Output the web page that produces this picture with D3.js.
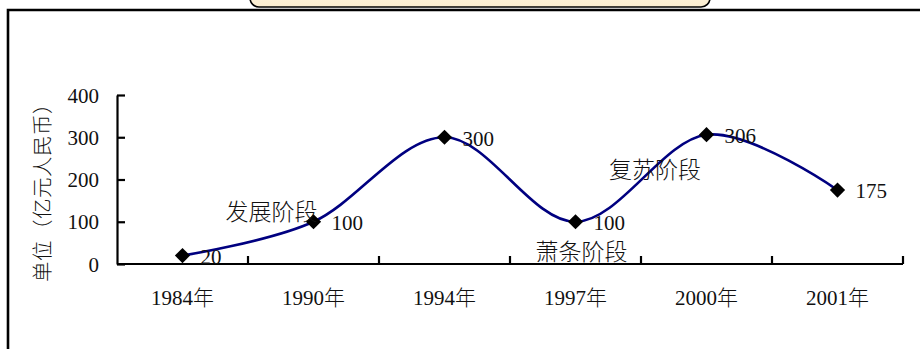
<!DOCTYPE html>
<html>
<head>
<meta charset="utf-8">
<script src="https://cdn.jsdelivr.net/npm/d3@7"></script>
<style>
  html, body { margin: 0; padding: 0; background: #fff; }
  svg { display: block; }
  text { font-family: "Liberation Serif", "Noto Sans CJK SC", serif; fill: #111; }
</style>
</head>
<body>
<svg id="chart" width="920" height="349"></svg>
<script>
// 年份与投资规模（亿元人民币）
const years = ["1984年", "1990年", "1994年", "1997年", "2000年", "2001年"];
const values = [20, 100, 300, 100, 306, 175];
const yTicks = [0, 100, 200, 300, 400];
const phaseLabels = ["发展阶段", "萧条阶段", "复苏阶段"];
const yTitle = "单位（亿元人民币）";

const svg = d3.select("#chart");
const W = 920, H = 349;

// 外框与顶部标题框
const defs = svg.append("defs");
const grad = defs.append("linearGradient").attr("id", "titleFill")
  .attr("x1", 0).attr("x2", 0).attr("y1", 0).attr("y2", 1);
grad.append("stop").attr("offset", "0%").attr("stop-color", "#fdf6e6");
grad.append("stop").attr("offset", "100%").attr("stop-color", "#fbedcf");

svg.append("rect")
  .attr("x", 250).attr("y", -22).attr("width", 460).attr("height", 29)
  .attr("rx", 9).attr("ry", 9)
  .attr("fill", "url(#titleFill)").attr("stroke", "#000").attr("stroke-width", 1.6);

svg.append("path")
  .attr("d", `M8,${H} L8,10 L${W},10`)
  .attr("fill", "none").attr("stroke", "#000").attr("stroke-width", 2.6);

// 坐标轴与比例尺
const plot = { left: 117, right: 903, top: 95, bottom: 264 };
const x = d3.scaleBand().domain(years).range([plot.left, plot.right]).padding(0);
const y = d3.scaleLinear().domain([0, 400]).range([plot.bottom, plot.top]);
const cx = d => x(d) + x.bandwidth() / 2;

const axisFont = 21;

// Y 轴
const yAxis = svg.append("g")
  .attr("transform", `translate(${plot.left},0)`)
  .call(d3.axisLeft(y).tickValues(yTicks).tickSizeInner(-8).tickSizeOuter(0).tickPadding(18));
yAxis.select(".domain").attr("stroke", "#000").attr("stroke-width", 2.2);
yAxis.selectAll(".tick line").attr("stroke", "#000").attr("stroke-width", 2.2);
yAxis.selectAll(".tick text")
  .attr("font-family", "Liberation Serif, serif")
  .attr("font-size", axisFont).attr("fill", "#111")
  .attr("dy", "0.34em");

// X 轴：刻度在类别分界处
const xAxisG = svg.append("g").attr("transform", `translate(0,${plot.bottom})`);
xAxisG.append("line")
  .attr("x1", plot.left).attr("x2", plot.right)
  .attr("stroke", "#000").attr("stroke-width", 2.2);
const bounds = years.map(d => x(d) + x.bandwidth());
xAxisG.selectAll("line.tick")
  .data(bounds)
  .join("line")
  .attr("class", "tick")
  .attr("x1", d => d).attr("x2", d => d)
  .attr("y1", 0).attr("y2", -8)
  .attr("stroke", "#000").attr("stroke-width", 2.2);
xAxisG.selectAll("text")
  .data(years)
  .join("text")
  .attr("x", d => cx(d))
  .attr("y", 34)
  .attr("dy", "0.35em")
  .attr("text-anchor", "middle")
  .attr("font-size", axisFont)
  .attr("font-weight", 300)
  .text(d => d);

// Y 轴标题
svg.append("text")
  .attr("transform", `translate(43,${(plot.top + plot.bottom) / 2 + 8}) rotate(-90)`)
  .attr("text-anchor", "middle")
  .attr("dominant-baseline", "central")
  .attr("font-family", "Noto Sans CJK SC, sans-serif")
  .attr("font-size", 20.5)
  .attr("font-weight", 300)
  .attr("letter-spacing", 0.5)
  .attr("fill", "#333")
  .text(yTitle);

// 平滑折线
const pts = years.map((d, i) => [cx(d), y(values[i])]);
svg.append("path")
  .datum(pts)
  .attr("d", d3.line().curve(d3.curveCardinal.tension(0)))
  .attr("fill", "none")
  .attr("stroke", "#000080")
  .attr("stroke-width", 2.6);

// 菱形标记
const diamond = d3.symbol().type(d3.symbolSquare).size(116);
svg.selectAll("path.marker")
  .data(pts)
  .join("path")
  .attr("class", "marker")
  .attr("transform", d => `translate(${d[0]},${d[1]}) rotate(45)`)
  .attr("d", diamond)
  .attr("fill", "#000");

// 数据标签
svg.selectAll("text.val")
  .data(values)
  .join("text")
  .attr("class", "val")
  .attr("x", (v, i) => cx(years[i]) + 18)
  .attr("y", v => y(v) + 1)
  .attr("dy", "0.35em")
  .attr("font-size", axisFont)
  .text(v => v);

// 阶段说明
const phaseFont = 23;
const phaseG = svg.append("g")
  .attr("font-family", "Noto Sans CJK SC, sans-serif")
  .attr("font-size", phaseFont)
  .attr("font-weight", 300);
phaseG.append("text")
  .attr("x", cx(years[1]) + 4).attr("y", y(values[1]) - 10)
  .attr("text-anchor", "end").attr("dy", "0.36em")
  .attr("fill", "#333")
  .text(phaseLabels[0]);
phaseG.append("text")
  .attr("x", cx(years[3]) + 6).attr("y", y(0) - 12)
  .attr("text-anchor", "middle").attr("dy", "0.36em")
  .attr("fill", "#333")
  .text(phaseLabels[1]);
phaseG.append("text")
  .attr("x", (cx(years[3]) + cx(years[4])) / 2 + 14).attr("y", y(224))
  .attr("text-anchor", "middle").attr("dy", "0.36em")
  .attr("fill", "#333")
  .text(phaseLabels[2]);
</script>
</body>
</html>
